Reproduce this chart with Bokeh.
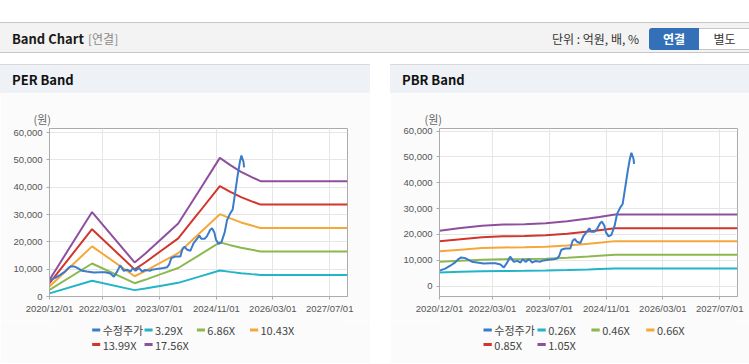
import pandas as pd
from bokeh.plotting import figure
from bokeh.models import (Range1d, FixedTicker, NumeralTickFormatter, DatetimeTickFormatter,
                          Div, Spacer, ColumnDataSource)
from bokeh.core.properties import value
from bokeh.layouts import column, row
from bokeh.embed import file_html
from bokeh.resources import INLINE

# ---------------- data ----------------
x_tick_dates = ["2020-12-01", "2022-03-01", "2023-07-01", "2024-11-01", "2026-03-01", "2027-07-01"]
x_tick_labels = ["2020/12/01", "2022/03/01", "2023/07/01", "2024/11/01", "2026/03/01", "2027/07/01"]
y_ticks = [0, 10000, 20000, 30000, 40000, 50000, 60000]

price_label = "수정주가"
price_dates = [
    "2020-12-01", "2021-01-19", "2021-03-03", "2021-04-15", "2021-05-13", "2021-06-05",
    "2021-07-10", "2021-08-07", "2021-09-05", "2021-10-18", "2021-12-15", "2022-02-10",
    "2022-03-25", "2022-05-08", "2022-06-06", "2022-07-05", "2022-07-30", "2022-08-31",
    "2022-09-29", "2022-10-27", "2022-11-16", "2022-12-09", "2023-01-07", "2023-02-04",
    "2023-03-03", "2023-04-15", "2023-04-29", "2023-06-25", "2023-08-07", "2023-09-05",
    "2023-09-24", "2023-10-12", "2023-11-15", "2023-12-28", "2024-01-17", "2024-02-03",
    "2024-02-23", "2024-03-23", "2024-04-20", "2024-05-19", "2024-06-08", "2024-06-25",
    "2024-07-24", "2024-08-13", "2024-09-10", "2024-09-25", "2024-10-15", "2024-10-29",
    "2024-11-21", "2024-12-14", "2025-01-11", "2025-02-01", "2025-03-01", "2025-03-21",
    "2025-04-10", "2025-05-02", "2025-05-22", "2025-06-04", "2025-06-22", "2025-06-27",
]
price_values = [
    6000, 6800, 7900, 9200, 10500, 11100,
    10850, 10200, 9450, 9150, 8750, 8900,
    8900, 8400, 7200, 9200, 11400, 9400,
    9800, 9150, 10450, 9400, 10450, 9150,
    9700, 9450, 9800, 10200, 10450, 10700,
    11750, 14100, 14600, 14600, 17600, 18250,
    17200, 16700, 19500, 21100, 22350, 21100,
    21100, 22100, 24450, 24950, 23400, 20800,
    19250, 19800, 23400, 27950, 30500, 31800,
    37600, 44100, 49300, 51600, 49300, 47300,
]

eps_dates = ["2020-12-01", "2021-12-01", "2022-12-01", "2023-03-01", "2023-07-20", "2023-12-10",
             "2024-06-01", "2024-12-01", "2025-03-01", "2025-06-01", "2025-09-01", "2025-11-15",
             "2027-12-01"]
eps_values = [350, 1760, 710, 890, 1205, 1520, 2185, 2890, 2740, 2600, 2490, 2405, 2405]
per_multiples = [3.29, 6.86, 10.43, 13.99, 17.56]
per_labels = ["3.29X", "6.86X", "10.43X", "13.99X", "17.56X"]

bps_dates = ["2020-12-01", "2021-06-01", "2021-12-01", "2022-06-01", "2022-12-01", "2023-06-01",
             "2023-12-01", "2024-06-01", "2024-09-01", "2025-01-15", "2027-12-01"]
bps_values = [20450, 21400, 22300, 22700, 22850, 23150, 23900, 24900, 25500, 26400, 26400]
pbr_multiples = [0.26, 0.46, 0.66, 0.85, 1.05]
pbr_labels = ["0.26X", "0.46X", "0.66X", "0.85X", "1.05X"]

# ---------------- style ----------------
price_color = "#3a7bcb"
band_colors = ["#22b4c9", "#8cb84f", "#f4a83a", "#d2352c", "#8f4f9f"]
KFONT = "Noto Sans CJK KR"
NFONT = "Liberation Sans"
PANEL_BG = "#fbfbfb"
LEGEND_COL_X = [53, 118, 183, 249]   # pixel offsets of legend columns
LEGEND_ROW_Y = [8.5, 23]             # pixel offsets of legend rows


def ms(d):
    return pd.Timestamp(d).value / 1e6


def make_chart(base_dates, base_values, multiples, width, left, right,
               y0, y1, title_offset):
    p = figure(width=width, height=228, output_backend="svg", toolbar_location=None,
               x_axis_type="datetime",
               x_range=Range1d(ms("2020-12-01"), ms("2027-12-01")),
               y_range=Range1d(y0, y1),
               min_border_left=left, min_border_right=right,
               min_border_top=35, min_border_bottom=25)
    p.background_fill_color = "white"
    p.border_fill_color = PANEL_BG
    p.outline_line_color = "#ababab"

    p.title.text = "(원)"
    p.title.align = "left"
    p.title.offset = title_offset
    p.title.standoff = 3
    p.title.text_font = KFONT
    p.title.text_font_size = "11px"
    p.title.text_font_style = "normal"
    p.title.text_color = "#666666"

    bx = pd.to_datetime(base_dates)
    for m, c in zip(multiples, band_colors):
        src = ColumnDataSource(dict(x=bx, y=[v * m for v in base_values]))
        p.line("x", "y", source=src, line_color=c, line_width=2)
    psrc = ColumnDataSource(dict(x=pd.to_datetime(price_dates), y=price_values))
    p.line("x", "y", source=psrc, line_color=price_color, line_width=2)

    tick_ms = [ms(d) for d in x_tick_dates]
    p.xaxis.ticker = FixedTicker(ticks=tick_ms)
    p.xaxis.formatter = DatetimeTickFormatter(days="%Y/%m/%d", months="%Y/%m/%d",
                                              years="%Y/%m/%d")
    p.xaxis.major_label_overrides = {t: lab for t, lab in zip(tick_ms, x_tick_labels)}
    p.yaxis.ticker = FixedTicker(ticks=y_ticks)
    p.yaxis.formatter = NumeralTickFormatter(format="0,0")

    for ax in (p.xaxis, p.yaxis):
        ax.axis_line_color = "#ababab"
        ax.major_tick_line_color = "#ababab"
        ax.major_tick_out = 3
        ax.major_tick_in = 0
        ax.minor_tick_line_color = None
        ax.major_label_text_font = NFONT
        ax.major_label_text_font_size = "9.5px"
        ax.major_label_text_color = "#555555"
    p.xaxis.major_label_standoff = 3
    p.yaxis.major_label_standoff = 4
    p.xgrid.grid_line_color = "#e6e6e6"
    p.ygrid.grid_line_color = "#e6e6e6"
    return p


def make_legend(labels, width):
    lf = figure(width=width, height=42, output_backend="svg", toolbar_location=None,
                x_axis_type=None, y_axis_type=None,
                x_range=Range1d(0, width), y_range=Range1d(42, 0), min_border=0)
    lf.outline_line_color = None
    lf.background_fill_color = PANEL_BG
    lf.border_fill_color = PANEL_BG
    lf.xgrid.visible = False
    lf.ygrid.visible = False
    names = [price_label] + labels
    colors = [price_color] + band_colors
    xs, ys = [], []
    for i in range(len(names)):
        xs.append(LEGEND_COL_X[i % 4])
        ys.append(LEGEND_ROW_Y[i // 4])
    src = ColumnDataSource(dict(x0=xs, x1=[x + 10 for x in xs], y=ys,
                                tx=[x + 13 for x in xs], name=names, color=colors))
    lf.segment(x0="x0", y0="y", x1="x1", y1="y", line_color="color", line_width=3, source=src)
    lf.text(x="tx", y="y", text="name", source=src, text_font=value(KFONT),
            text_font_size=value("11px"), text_baseline="middle", text_align="left",
            text_color="#444444")
    return lf


def title_div(text, width, left):
    html = (f'<div style="position:relative;box-sizing:border-box;width:{width}px;height:29px;'
            f'background:#eef2f7;border-top:1px solid #d8d8d8;font-family:\'{KFONT}\';'
            f'white-space:nowrap;">'
            f'<span style="position:absolute;left:{left}px;top:5px;font-size:13px;line-height:19px;'
            f'font-weight:bold;color:#111;">{text}</span></div>')
    return Div(text=html, width=width, height=29, margin=0)


def bottom_line(width):
    return Div(text=f'<div style="width:{width}px;height:1px;background:#d0d0d0;"></div>',
               width=width, height=1, margin=0)


header_html = (
    f'<div style="position:relative;box-sizing:border-box;width:749px;height:31px;'
    f'background:#f3f3f3;border-top:1px solid #c6c6c6;border-bottom:1px solid #c6c6c6;'
    f'font-family:\'{KFONT}\';white-space:nowrap;">'
    '<span style="position:absolute;left:12px;top:6px;font-size:13px;line-height:19px;'
    'font-weight:bold;color:#1a1a1a;">Band Chart</span>'
    '<span style="position:absolute;left:88px;top:6px;font-size:12px;line-height:19px;'
    'color:#8a8a8a;">[연결]</span>'
    '<span style="position:absolute;left:552px;top:6px;font-size:12px;line-height:19px;'
    'color:#333;">단위 : 억원, 배, %</span>'
    '<span style="position:absolute;left:649px;top:5px;width:50px;height:22px;line-height:22px;'
    'text-align:center;background:#3470b8;color:#fff;font-size:12px;font-weight:bold;'
    'border-radius:3px 0 0 3px;">연결</span>'
    '<span style="position:absolute;left:699px;top:5px;width:52px;height:22px;box-sizing:border-box;'
    'border:1px solid #c6c6c6;border-left:none;line-height:20px;text-align:center;background:#fff;'
    'color:#333;font-size:12px;">별도</span>'
    '</div>')
header = Div(text=header_html, width=749, height=31, margin=0)

per_fig = make_chart(eps_dates, eps_values, per_multiples, 370, 49, 23, 0, 61500, -16)
pbr_fig = make_chart(bps_dates, bps_values, pbr_multiples, 359, 49, 12, -4000, 61000, -15)

per_panel = column(title_div("PER Band", 370, 12), per_fig, make_legend(per_labels, 370),
                   bottom_line(370), spacing=0)
pbr_panel = column(title_div("PBR Band", 359, 12), pbr_fig, make_legend(pbr_labels, 359),
                   bottom_line(359), spacing=0)

layout = column(
    Spacer(width=749, height=22),
    header,
    Spacer(width=749, height=11),
    row(per_panel, Spacer(width=20, height=300), pbr_panel, spacing=0),
    spacing=0,
)

open("out.html", "w").write(file_html(layout, INLINE))
